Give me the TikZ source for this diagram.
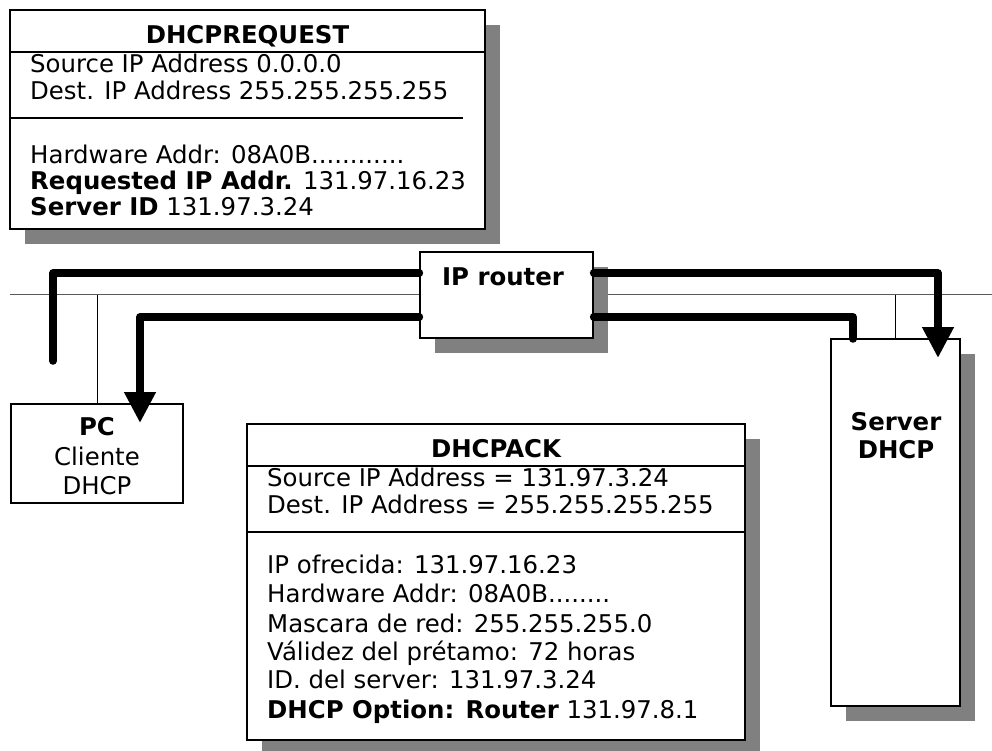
\documentclass[tikz,border=0pt]{standalone}
\usepackage{fontspec}
\setmainfont{DejaVu Sans}
\usetikzlibrary{arrows.meta,shadows}

\definecolor{shadowgray}{HTML}{808080}
\definecolor{busgray}{HTML}{5A5A5A}

\tikzset{
  box/.style={draw=black, line width=1.2pt, fill=white, inner sep=0pt,
    drop shadow={shadow xshift=15pt, shadow yshift=-15pt, fill=shadowgray, opacity=1}},
  plainbox/.style={draw=black, line width=1.2pt, fill=white, inner sep=0pt},
  rule/.style={draw=black, line width=1.2pt},
  bus/.style={draw=busgray, line width=1.6pt},
  drop/.style={draw=black, line width=1pt},
  flow/.style={line width=7.5pt, line cap=round, line join=round},
  flowtip/.style={flow, -{Triangle[width=30pt,length=31pt]}},
  txt/.style={inner sep=0pt, anchor=base west, font=\fontsize{24.4}{29}\selectfont},
  ctxt/.style={inner sep=0pt, anchor=base, font=\fontsize{24.4}{29}\selectfont},
  btxt/.style={ctxt, font=\fontsize{24.4}{29}\selectfont\bfseries},
}

\begin{document}
\begin{tikzpicture}[x=1pt, y=-1pt]
\useasboundingbox (0,0) rectangle (992,751);

% network bus
\coordinate (busL) at (10,294.5);
\coordinate (busR) at (992,294.5);
\draw[bus] (busL) -- (busR);

% lanes used by the packet flows
\coordinate (laneA) at (0,273);
\coordinate (laneB) at (0,317);

% boxes
\node[box, minimum width=475pt, minimum height=219pt] (req) at (247.5,119.5) {};
\node[box, minimum width=173pt, minimum height=86pt] (router) at (506.5,295) {};
\node[plainbox, minimum width=172pt, minimum height=99pt] (pc) at (97,453.5) {};
\node[box, minimum width=129pt, minimum height=367pt] (server) at (895.5,522.5) {};
\node[box, minimum width=498pt, minimum height=316pt] (ack) at (496,582) {};

% DHCPREQUEST contents
\draw[rule] (req.west |- 0,52) -- (req.east |- 0,52);
\draw[rule] (req.west |- 0,118) -- (463,118);
\node[btxt] (reqtitle) at (247.5,43.5) {DHCPREQUEST};
\node[txt] (reqsrc) at (30,72.5) {Source IP Address 0.0.0.0};
\node[txt] (reqdst) at (30,100) {Dest. IP Address 255.255.255.255};
\node[txt] (reqhw)  at (30,164) {Hardware Addr: 08A0B............};
\node[txt] (reqip)  at (30,190) {\textbf{Requested IP Addr.} 131.97.16.23};
\node[txt] (reqsid) at (30,216) {\textbf{Server ID} 131.97.3.24};

% DHCPACK contents
\draw[rule] (ack.west |- 0,466) -- (ack.east |- 0,466);
\draw[rule] (ack.west |- 0,532) -- (ack.east |- 0,532);
\node[btxt] (acktitle) at (496,457) {DHCPACK};
\node[txt] (acksrc)  at (267,486) {Source IP Address = 131.97.3.24};
\node[txt] (ackdst)  at (267,513) {Dest. IP Address = 255.255.255.255};
\node[txt] (ackip)   at (267,573) {IP ofrecida: 131.97.16.23};
\node[txt] (ackhw)   at (267,602) {Hardware Addr: 08A0B........};
\node[txt] (ackmask) at (267,632) {Mascara de red: 255.255.255.0};
\node[txt] (acklease) at (267,660) {Válidez del prétamo: 72 horas};
\node[txt] (ackid)   at (267,688) {ID. del server: 131.97.3.24};
\node[txt] (ackopt)  at (267,718) {\textbf{DHCP Option: Router} 131.97.8.1};

% device labels
\node[btxt] (routerlbl) at (503,285) {IP router};
\node[btxt] (pclbl) at (97,435) {PC};
\node[ctxt] (pclbl2) at (97,465) {Cliente};
\node[ctxt] (pclbl3) at (97,494) {DHCP};
\node[btxt] (srvlbl) at (896,430) {Server};
\node[btxt] (srvlbl2) at (896,458) {DHCP};

% taps from the bus
\draw[drop] (pc.north) -- (pc.north |- busL);
\draw[drop] (server.north) -- (server.north |- busL);

% packet flows
\coordinate (pcout) at (53,361);
\coordinate (pcin) at (140,423);
\coordinate (srvin) at (938,358);
\coordinate (srvout) at (853,339);
\draw[flow] (pcout) |- (router.west |- laneA);
\draw[flowtip] (router.east |- laneA) -| (srvin);
\draw[flow] (srvout) |- (router.east |- laneB);
\draw[flowtip] (router.west |- laneB) -| (pcin);
\end{tikzpicture}
\end{document}
